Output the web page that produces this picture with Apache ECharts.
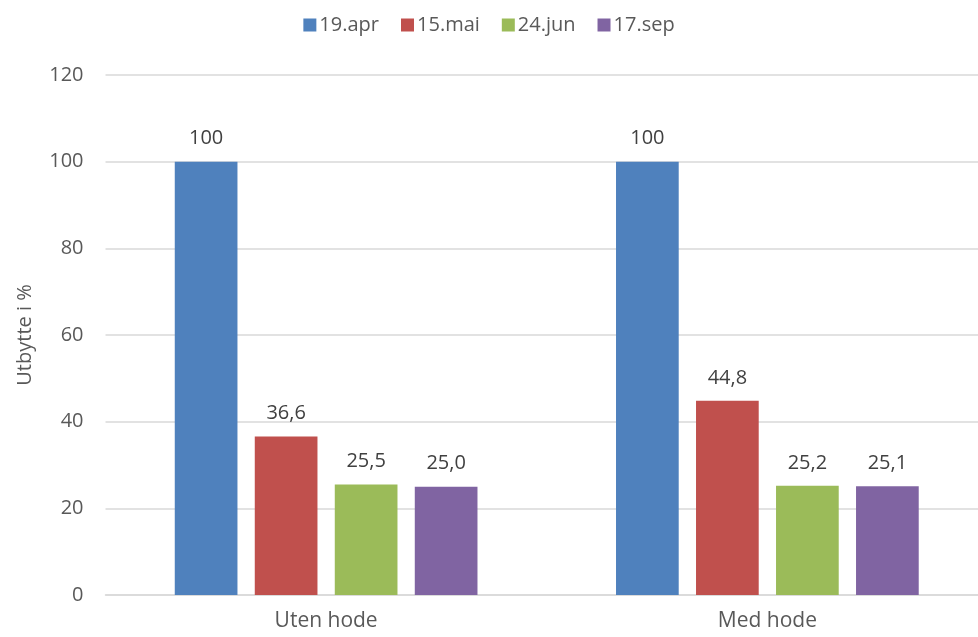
<!DOCTYPE html>
<html>
<head>
<meta charset="utf-8">
<script src="https://cdn.jsdelivr.net/npm/echarts@6/dist/echarts.min.js"></script>
<style>html,body{margin:0;padding:0;background:#fff;}#c{width:978px;height:637px;}</style>
</head>
<body>
<div id="c"></div>
<script>
const categories = ["Uten hode", "Med hode"];
const seriesNames = ["19.apr", "15.mai", "24.jun", "17.sep"];
const apr19 = [100, 100];
const mai15 = [36.6, 44.8];
const jun24 = [25.5, 25.2];
const sep17 = [25.0, 25.1];
const labelTexts = [["100", "100"], ["36,6", "44,8"], ["25,5", "25,2"], ["25,0", "25,1"]];
const colors = ["#4F81BD", "#C0504D", "#9BBB59", "#8064A2"];
const yTicks = [0, 20, 40, 60, 80, 100, 120];

const font = "'Open Sans', sans-serif";
const values = [apr19, mai15, jun24, sep17];
const chart = echarts.init(document.getElementById('c'));
chart.setOption({
  animation: false,
  textStyle: { fontFamily: font },
  legend: {
    top: 10, left: 'center', itemWidth: 13, itemHeight: 13, itemGap: 22,
    icon: 'rect',
    textStyle: { fontSize: 20, color: '#595959', fontFamily: font, padding: [0,0,0,-2] },
    data: seriesNames
  },
  grid: { left: 105.5, width: 882.5, top: 75, height: 520, containLabel: false, outerBoundsMode: 'none' },
  xAxis: {
    type: 'category', data: categories,
    axisLine: { lineStyle: { color: '#d9d9d9', width: 1.5 } },
    axisTick: { show: false },
    axisLabel: { fontSize: 21, color: '#595959', margin: 16, fontFamily: font }
  },
  yAxis: {
    type: 'value', min: 0, max: 120, interval: 20,
    name: 'Utbytte i %', nameLocation: 'middle', nameGap: 70, nameRotate: 90,
    nameTextStyle: { fontSize: 20, color: '#595959', fontFamily: font },
    axisLine: { show: false }, axisTick: { show: false },
    axisLabel: { fontSize: 20, color: '#595959', margin: 22, fontFamily: font,
      formatter: v => yTicks.includes(v) ? String(v) : '' },
    splitLine: { lineStyle: { color: '#d9d9d9', width: 1.5 } }
  },
  series: seriesNames.map((n, i) => ({
    name: n, type: 'bar', data: values[i],
    barWidth: 62.7, barGap: '27.6%',
    itemStyle: { color: colors[i] },
    label: { show: true, position: 'top', distance: 13, fontSize: 20, color: '#404040', fontFamily: font,
      formatter: p => labelTexts[i][p.dataIndex] }
  }))
});
</script>
</body>
</html>
